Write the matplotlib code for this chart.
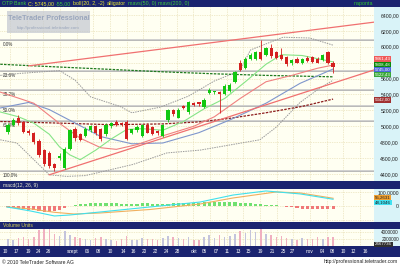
import numpy as np
import matplotlib
matplotlib.use("Agg")
import matplotlib.pyplot as plt
from matplotlib.patches import Rectangle
from matplotlib.transforms import blended_transform_factory

plt.rcParams['font.family'] = ['Liberation Sans', 'DejaVu Sans']

W, H = 400, 266
NAVY = '#1b2470'
CREAM = '#fffff2'
AXCOL = '#d9f3f8'
GRID = '#e2d6a4'

# --- daily candles, OTP Bank (aug - nov 2010) ---
opens = [4930, 5020, 5110, 5050, 4940, 4910, 4820, 4700, 4660, 4520,
         4600, 4480, 4720, 4960, 4900, 4880, 4950, 5000, 4960, 4900,
         5000, 5050, 5040, 5060, 4920, 4950, 4880, 5020, 4990, 4940,
         4880, 5080, 5200, 5110, 5250, 5180, 5290, 5300, 5245, 5420,
         5430, 5430, 5400, 5440, 5560, 5800, 5730, 5840, 5840, 5940,
         5900, 5990, 5930, 5900, 5870, 5790, 5850, 5790, 5860, 5870,
         5850, 5830, 5940, 5800]
highs = [5040, 5100, 5140, 5070, 4960, 4930, 4840, 4720, 4690, 4540,
         4660, 4740, 4970, 4990, 4920, 4990, 5020, 5010, 4980, 5040,
         5060, 5080, 5060, 5080, 4970, 5010, 5030, 5040, 5000, 4950,
         5030, 5220, 5220, 5230, 5270, 5320, 5310, 5310, 5350, 5480,
         5450, 5450, 5530, 5540, 5700, 5830, 5870, 5920, 5950, 6085,
         6000, 6040, 5950, 5990, 5890, 5850, 5870, 5860, 5880, 5890,
         5870, 5910, 5950, 5820]
lows = [4900, 5000, 5020, 4910, 4890, 4780, 4620, 4500, 4480, 4437,
        4580, 4460, 4700, 4820, 4810, 4860, 4930, 4890, 4820, 4880,
        4980, 5000, 5000, 4830, 4900, 4930, 4860, 4910, 4890, 4890,
        4860, 5060, 5130, 5100, 5220, 5160, 5260, 5260, 5230, 5400,
        5400, 5170, 5390, 5430, 5540, 5690, 5720, 5830, 5830, 5830,
        5880, 5860, 5850, 5830, 5760, 5770, 5790, 5780, 5810, 5800,
        5790, 5820, 5780, 5670]
closes = [5010, 5080, 5040, 4930, 4910, 4800, 4640, 4530, 4500, 4470,
          4630, 4720, 4950, 4850, 4830, 4960, 5000, 4910, 4840, 5020,
          5040, 5020, 5030, 4840, 4960, 4990, 5010, 4920, 4900, 4910,
          5020, 5200, 5150, 5210, 5235, 5300, 5270, 5285, 5330, 5460,
          5445, 5410, 5510, 5520, 5680, 5710, 5850, 5900, 5940, 5850,
          5990, 5880, 5860, 5850, 5780, 5830, 5800, 5850, 5820, 5810,
          5800, 5900, 5800, 5745]
volumes = [2.0, 1.8, 2.2, 2.5, 2.0, 2.6, 4.5, 5.0, 4.8, 3.5,
           3.0, 4.2, 3.2, 2.5, 2.2, 2.0, 1.8, 2.3, 2.6, 2.1,
           1.7, 1.5, 2.0, 2.8, 1.6, 1.8, 2.2, 1.9, 2.0, 1.7,
           2.4, 3.0, 2.6, 2.3, 1.9, 2.5, 1.8, 1.6, 2.7, 3.1,
           2.4, 3.3, 2.6, 2.9, 3.5, 4.2, 3.8, 4.6, 4.0, 5.0,
           3.6, 3.2, 2.6, 2.9, 2.4, 2.0, 1.8, 2.2, 1.9, 2.1,
           2.5, 2.0, 2.6, 2.47]  # millions

date_labels = ['10', '17', '19', '24', '26', 'szept', '06', '08', '10', '14', '16',
               '20', '22', '24', '28', 'okt', '05', '07', '11', '13', '15', '19',
               '21', '25', '27', 'nov', '04', '08', '10', '12', '16']
date_pos = [-0.6, 1.55, 3.9, 5.8, 7.9, 12.6, 15.3, 17.6, 19.8, 22.3, 24.2,
            26.4, 28.5, 30.6, 32.8, 36, 38, 40.3, 42.4, 44.6, 46.5, 48.8,
            51.2, 53.3, 55.2, 58.5, 60.9, 62.8, 64.9, 67, 69.2]

# price axis labels (5800 sits under the value tags, not shown)
price_ticks = [4400, 4600, 4800, 5000, 5200, 5400, 5600, 6000, 6200, 6400]

# indicator lines (bar index, value)
boll_up_i = [-1.5, 2.3, 10, 13, 16, 21.7, 24, 29.5, 35, 40, 45, 46, 47, 53.3, 58.5, 63]
boll_up = [5640, 5665, 5700, 5580, 5370, 5250, 5170, 5240, 5380, 5570, 5700, 5835, 5960, 6120, 6110, 6020]
boll_lo_i = [-1.5, 1.7, 8, 11.4, 15, 24.2, 30.8, 37.2, 48.8, 52, 56.6, 60, 63]
boll_lo = [4830, 4790, 4390, 4370, 4380, 4520, 4665, 4700, 4830, 4990, 5300, 5460, 5580]

jaw_i = [-1.5, 4, 8, 14.5, 18, 24, 30, 37, 43, 50, 56.6, 63]
jaw = [5230, 5300, 5210, 4990, 4870, 4780, 4790, 4920, 5080, 5290, 5540, 5720]
teeth_i = [-1.5, 5, 9.5, 14, 18, 21, 25, 30, 36, 40, 45, 50, 55, 60, 63]
teeth = [5430, 5290, 5060, 4850, 4730, 4710, 4770, 4880, 5000, 5120, 5350, 5560, 5640, 5730, 5770]
lips_i = [-1.5, 2, 5, 8, 10, 12, 14, 17, 20, 23, 26, 30, 34, 38, 42, 46, 50, 53, 57, 60, 63]
lips = [5180, 5120, 5040, 4900, 4740, 4640, 4580, 4700, 4840, 4960, 4970, 4950, 5060, 5220,
        5350, 5560, 5780, 5900, 5890, 5850, 5810]

mav50_i = [-1.5, 10, 20, 30, 37, 43, 50, 57, 63]
mav50 = [5060, 5040, 5020, 5030, 5055, 5100, 5170, 5250, 5342]
mav200_i = [-1.5, 10, 20, 30, 40, 50, 63]
mav200 = [5780, 5745, 5715, 5685, 5660, 5640, 5622]

trend_up_i = [4, 71]
trend_up = [5760, 6310]
trend_lo_i = [8, 71]
trend_lo = [4390, 5710]

fib_levels = [0.0, 23.6, 38.2, 50.0, 61.8, 100.0]

macd_i = [-0.2, 4.3, 9, 12, 17.8, 27.5, 37.2, 43.6, 50, 56.6, 63]
macd = [-7, -35, -71, -64, -43, -7, 28, 78, 107, 86, 48]
sig_i = [-0.2, 4.3, 9, 12.8, 17.8, 27.5, 37.2, 43.6, 52, 56.6, 63]
sig = [-7, -20, -45, -57, -50, -25, 14, 57, 100, 93, 55]
hist = [-6, -12, -18, -24, -28, -32, -36, -40, -40, -36, -26, -14, -3,
        6, 12, 16, 20, 22, 22, 21, 19, 18, 17, 16, 16, 17, 18, 18, 17, 16, 16,
        17, 19, 21, 23, 24, 24, 24, 25, 26, 27, 28, 28, 27, 26, 24, 22, 19, 16,
        13, 10, 8, 5, 3,
        -6, -10, -14, -18, -20, -22, -24, -24, -22, -20]

# --- figure frame ---
fig = plt.figure(figsize=(W / 100, H / 100), dpi=100)
bg = fig.add_axes([0, 0, 1, 1])
bg.set_xlim(0, W)
bg.set_ylim(H, 0)
bg.axis('off')


def box(a, x0, y0, x1, y1, color, **kw):
    a.add_patch(Rectangle((x0, y0), x1 - x0, y1 - y0, facecolor=color, edgecolor='none', **kw))


def rect(x0, y0, x1, y1):
    return [x0 / W, 1 - y1 / H, (x1 - x0) / W, (y1 - y0) / H]


box(bg, 0, 0, W, H, 'white')
box(bg, 374, 7, W, 246, AXCOL)
box(bg, 0, 0, W, 7, NAVY)
box(bg, 0, 181, W, 189, NAVY)
box(bg, 0, 222, W, 229, NAVY)
box(bg, 0, 246, W, 257, NAVY)

XL = (-1.55, 70.93)
grid_pos = (np.arange(10, 374, 16.67) - 8) / 5.16
dotted = (0, (1, 1.5))


def panel(y0, y1):
    a = fig.add_axes(rect(0, y0, 374, y1))
    a.set_facecolor(CREAM)
    a.set_xlim(*XL)
    for s in a.spines.values():
        s.set_visible(False)
    a.yaxis.tick_right()
    # labels right-aligned against the figure edge
    a.tick_params(axis='y', length=0, pad=18, labelsize=3.7, labelcolor='#222222')
    a.tick_params(axis='x', length=0, labelbottom=False)
    for g in grid_pos:
        a.axvline(g, color=GRID, lw=0.5, ls=dotted, zorder=0)
    return a


def right_align(a):
    for lbl in a.get_yticklabels():
        lbl.set_horizontalalignment('right')


idx = np.arange(len(closes))
o = np.array(opens)
c = np.array(closes)
up = c >= o

# --- price panel ---
ax = panel(7, 181)
ax.set_ylim(4312, 6500)
ax.set_yticks(price_ticks, [f"{t},00" for t in price_ticks])
right_align(ax)
for t in np.arange(4400, 6401, 200):
    ax.axhline(t, color=GRID, lw=0.5, ls=dotted, zorder=0)

hi, lo = max(highs), min(lows)
lbl_tr = blended_transform_factory(ax.transAxes, ax.transData)
for lv in fib_levels:
    p = hi - (hi - lo) * lv / 100
    ax.axhline(p, color='#d0d0d0', lw=1.4, zorder=1)
    ax.axhline(p, color='#a8a8a8', lw=0.4, zorder=1)
    ax.text(0.008, p - 25, f"{lv:.1f}%", transform=lbl_tr, fontsize=3.3,
            color='#333333', va='top', ha='left', zorder=2)

ax.plot(boll_up_i, boll_up, color='#9a9a9a', lw=0.7, ls=(0, (1.5, 1)), zorder=2)
ax.plot(boll_lo_i, boll_lo, color='#9a9a9a', lw=0.7, ls=(0, (1.5, 1)), zorder=2)
ax.plot(mav200_i, mav200, color='#1e7a1e', lw=0.9, ls=(0, (2, 1)), zorder=2)
ax.plot(mav50_i, mav50, color='#8c1c1c', lw=0.9, ls=(0, (2, 1)), zorder=2)
ax.plot(jaw_i, jaw, color='#7f96cc', lw=0.8, zorder=3)
ax.plot(teeth_i, teeth, color='#f08080', lw=0.8, zorder=3)
ax.plot(lips_i, lips, color='#86e486', lw=0.8, zorder=3)
ax.plot(trend_up_i, trend_up, color='#f07070', lw=0.9, zorder=3)
ax.plot(trend_lo_i, trend_lo, color='#f07070', lw=0.9, zorder=3)

ccol = np.where(up, '#10c810', '#d42020')
ax.vlines(idx, lows, highs, colors=ccol, lw=0.6, zorder=5)
body = np.maximum(np.abs(c - o), 12)
ax.bar(idx, body, bottom=np.minimum(o, c), width=0.62, color=ccol, linewidth=0, zorder=6)

# --- macd panel ---
ax2 = panel(189, 222)
ax2.set_ylim(-114, 121)
ax2.set_yticks([0, 100], ['0', '100,0000'])
right_align(ax2)
for t in [-100, 0, 100]:
    ax2.axhline(t, color=GRID, lw=0.5, ls=dotted, zorder=0)
hcol = ['#f07878' if h < 0 else '#70e070' for h in hist]
ax2.bar(idx, hist, width=0.6, color=hcol, linewidth=0, zorder=2)
ax2.plot(sig_i, sig, color='#f0b060', lw=0.8, zorder=3)
ax2.plot(macd_i, macd, color='#40e0ec', lw=0.8, zorder=4)

# --- volume panel ---
ax3 = panel(229, 246)
ax3.set_ylim(0, 4.9e6)
ax3.set_yticks([2e6, 4e6], ['2000000', '4000000'])
ax3.tick_params(axis='y', labelsize=3.4)
right_align(ax3)
for t in [2e6, 4e6]:
    ax3.axhline(t, color=GRID, lw=0.5, ls=dotted, zorder=0)
vcol = np.where(up, '#c4c4dc', '#f0b0c0')
ax3.bar(idx, np.array(volumes) * 1e6, width=0.3, color=vcol, linewidth=0, zorder=2)
ax3.set_xticks(date_pos, date_labels)
ax3.tick_params(axis='x', labelbottom=True, length=0, pad=2.2, labelsize=3.4, labelcolor='white')

# --- overlay: header, labels, watermark ---
top = fig.add_axes([0, 0, 1, 1], facecolor='none')
top.set_xlim(0, W)
top.set_ylim(H, 0)
top.axis('off')

header = [("OTP Bank", '#3cc83c'), ("C: 5745,00", '#e8e830'), ("-55,00", '#3cc83c'),
          ("boll(20, 2, -2)", '#e8e830'), ("alligator", '#e8e830'),
          ("mavs(50, 0)", '#3cc83c'), ("mavs(200, 0)", '#3cc83c')]
rend = fig.canvas.get_renderer()
x = 2
for s, col in header:
    t = top.text(x, 3.8, s, color=col, fontsize=3.8, va='center', ha='left')
    x += t.get_window_extent(renderer=rend).width + 2
top.text(373, 3.8, "naponta", color='#30c830', fontsize=3.8, va='center', ha='right')
top.text(3, 185.5, "macd(12, 26, 9)", color='#e8e8d0', fontsize=3.6, va='center', ha='left')
top.text(3, 225.8, "Volume Units", color='#d8d050', fontsize=3.6, va='center', ha='left')
top.text(2, 262, "© 2010 TeleTrader Software AG", color='#222222', fontsize=3.6, va='center')
top.text(398, 262, "http://professional.teletrader.com", color='#222222', fontsize=3.6,
         va='center', ha='right')

tags = [(59, "5861,43", '#f05a5a', 'white'), (64.2, "5808,48", '#0a8a0a', 'white'),
        (69.4, "5745,00", '#4a66d8', 'white'), (74.6, "5622,43", '#38a838', 'white'),
        (100, "5342,00", '#a03030', 'white'), (197.2, "55,2631", '#f0a030', '#202020'),
        (202.2, "48,1046", '#40e0f0', '#202020'), (244.2, "2467736", '#303030', 'white')]
for y, s, fc, tc in tags:
    top.text(375, y, s, color=tc, fontsize=3.2, va='center', ha='left',
             bbox=dict(boxstyle='square,pad=0.12', fc=fc, ec='none'))

box(top, 7, 11, 90, 33, '#c6cad2', alpha=0.75)
top.text(48.5, 19, "TeleTrader Professional", color='#9aa6bc', fontsize=5.2,
         fontweight='bold', va='center', ha='center')
top.text(48.5, 27.5, "http://professional.teletrader.com", color='#9aa6bc', fontsize=3.2,
         va='center', ha='center')

fig.savefig('out.png', dpi=100)
